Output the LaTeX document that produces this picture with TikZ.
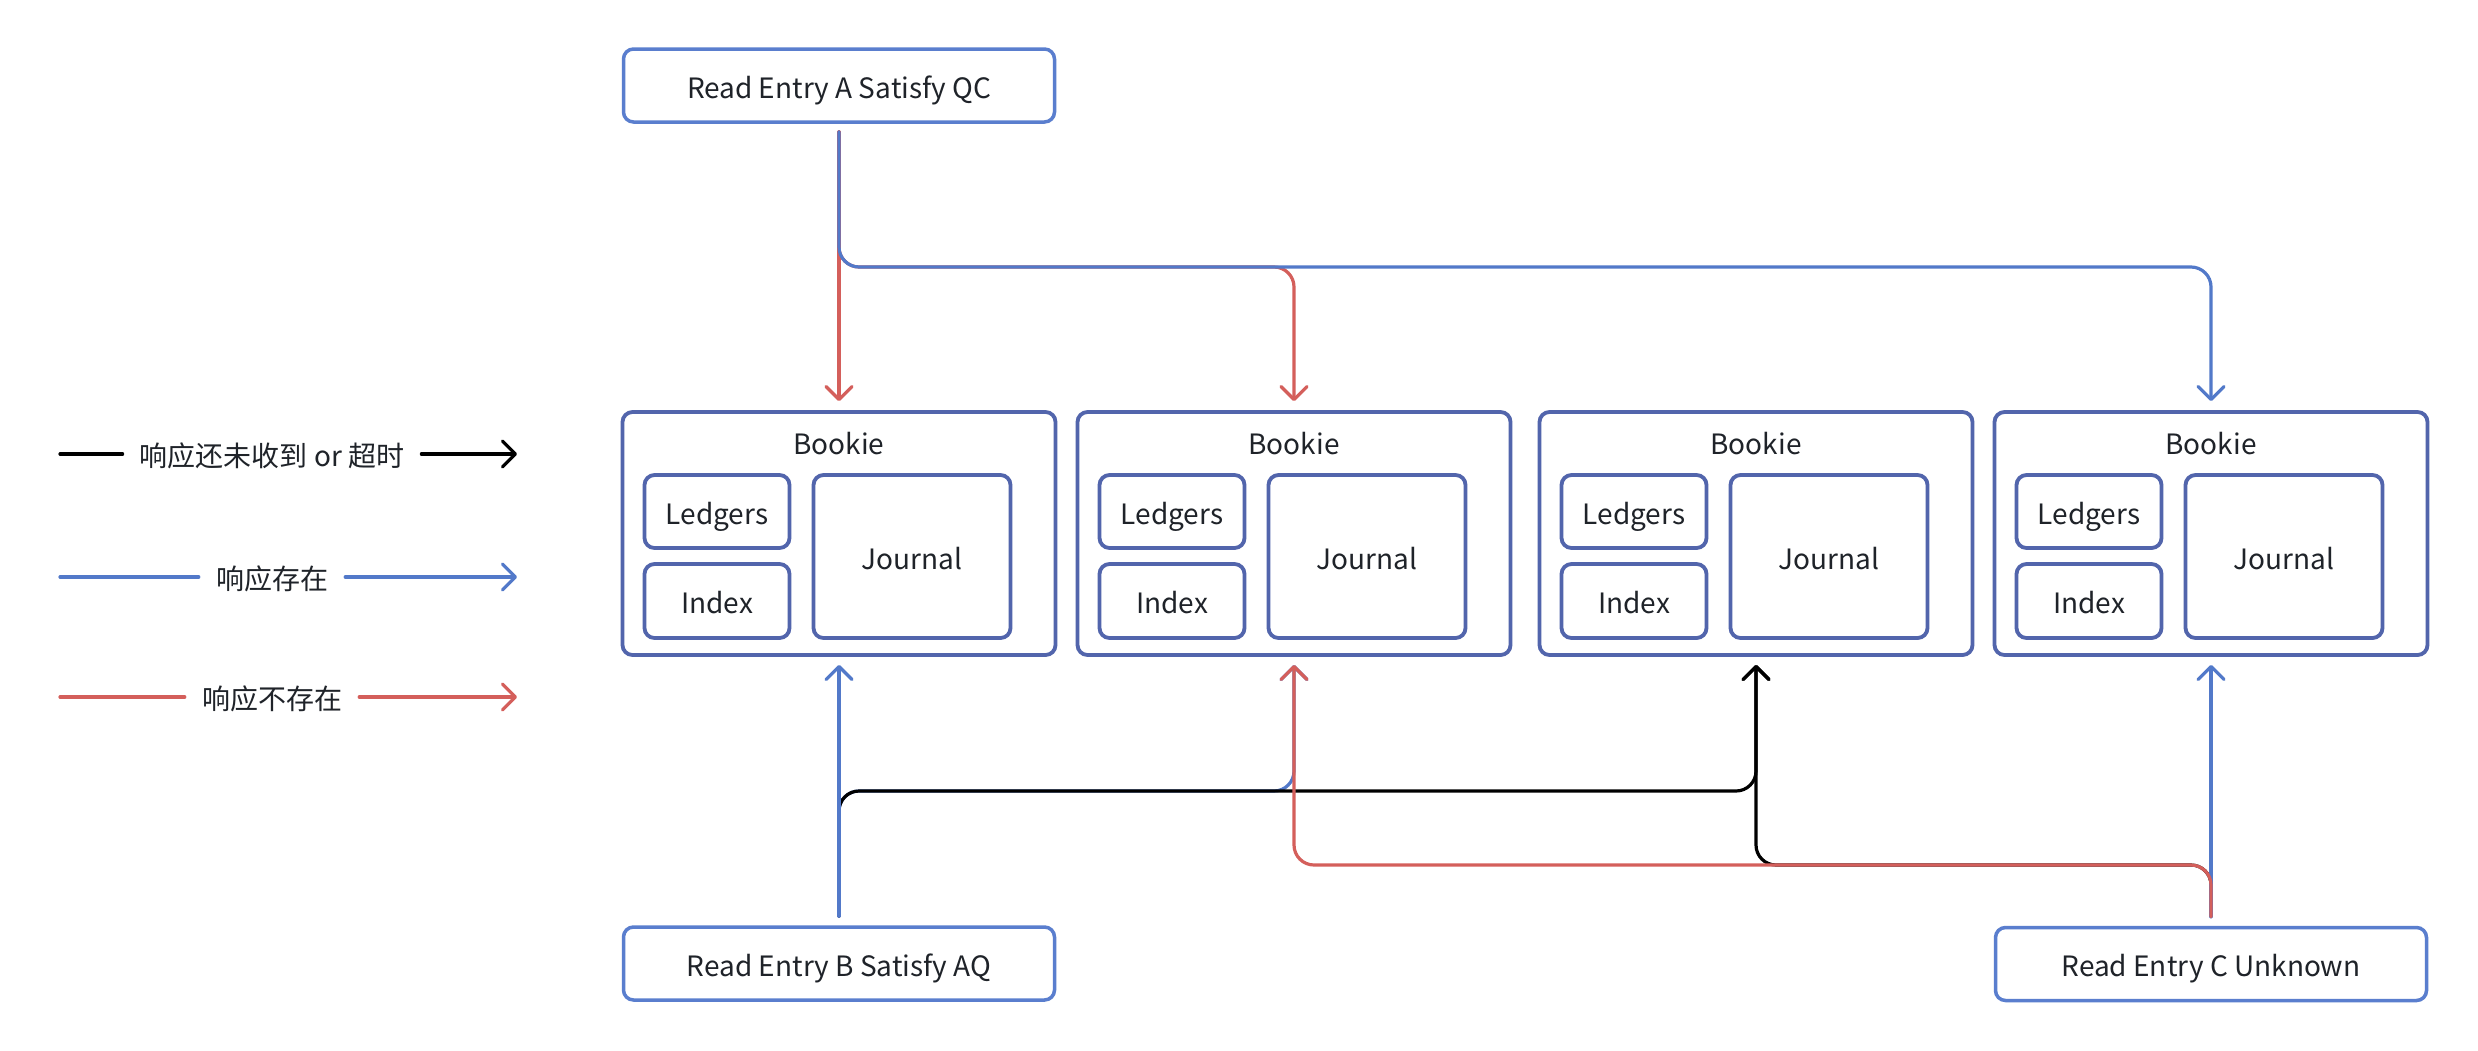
\documentclass[tikz,border=0pt]{standalone}
\usepackage{fontspec}
\setmainfont{Noto Sans CJK SC}
\usetikzlibrary{arrows.meta,calc}
\definecolor{bkborder}{HTML}{5265AC}
\definecolor{rdborder}{HTML}{5A7ECE}
\definecolor{cblue}{HTML}{5279C9}
\definecolor{cred}{HTML}{D45F5B}
\definecolor{ctext}{HTML}{1F2329}
\begin{document}
\begin{tikzpicture}[x=1pt,y=-1pt,
  every node/.style={font=\fontsize{28}{34}\selectfont, text=ctext},
  readbox/.style={draw=rdborder, line width=3.5pt, rounded corners=10pt, minimum width=431pt, minimum height=73pt, inner sep=0pt, text height=25pt, text depth=0pt},
  bookiebox/.style={draw=bkborder, line width=3.8pt, rounded corners=10pt, minimum width=433pt, minimum height=243pt, inner sep=0pt},
  partbox/.style={draw=bkborder, line width=3.8pt, rounded corners=10pt, inner sep=0pt, anchor=north west, text height=25pt, text depth=0pt},
  plainline/.style={line width=3.2pt, line cap=round},
  conn/.style={line width=3.2pt, rounded corners=20pt, line cap=round, -{Straight Barb[length=13pt,width=26pt,round]}},
  legtext/.style={inner xsep=17pt, inner ysep=0pt}
]
\useasboundingbox[fill=white] (0,0) rectangle (2478,1050);

% read entry boxes
\node[readbox] (rA) at (839,85.5) {Read Entry A Satisfy QC};
\node[readbox] (rB) at (839,963.5) {Read Entry B Satisfy AQ};
\node[readbox] (rC) at (2211,964) {Read Entry C Unknown};

% bookies
\foreach \i/\cx in {1/839,2/1294,3/1756,4/2211}{
  \node[bookiebox] (bk\i) at (\cx,533.5) {};
  \node[anchor=base] (bt\i) at (\cx,454) {Bookie};
  \node[partbox, minimum width=145pt, minimum height=73pt] (led\i) at ($(bk\i.north west)+(22,63)$) {Ledgers};
  \node[partbox, minimum width=145pt, minimum height=74pt] (idx\i) at ($(bk\i.north west)+(22,152)$) {Index};
  \node[partbox, minimum width=197pt, minimum height=163pt] (jr\i) at ($(bk\i.north west)+(191,63)$) {Journal};
}

% legend
\coordinate (l1s) at (60,454);  \coordinate (l1e) at (517,454);
\coordinate (l2s) at (60,577);  \coordinate (l2e) at (517,577);
\coordinate (l3s) at (60,697);  \coordinate (l3e) at (517,697);
\node[legtext] (l1t) at (272,456) {响应还未收到 or 超时};
\node[legtext] (l2t) at (272,579) {响应存在};
\node[legtext] (l3t) at (272,699) {响应不存在};
\draw[plainline, black] (l1s) -- (l1t.west |- l1s);
\draw[conn, black] (l1t.east |- l1e) -- (l1e);
\draw[plainline, cblue] (l2s) -- (l2t.west |- l2s);
\draw[conn, cblue] (l2t.east |- l2e) -- (l2e);
\draw[plainline, cred] (l3s) -- (l3t.west |- l3s);
\draw[conn, cred] (l3t.east |- l3e) -- (l3e);

% buses
\coordinate (busA) at (0,267);
\coordinate (busB) at (0,791);
\coordinate (busC) at (0,865);

% from A
\draw[conn, cred] ([yshift=-8pt]rA.south) -- (rA.south |- busA) -- (bk2.north |- busA) -- ([yshift=9pt]bk2.north);
\draw[conn, cred] ([yshift=-8pt]rA.south) -- ([yshift=9pt]bk1.north);
\draw[conn, cblue] ([yshift=-8pt]rA.south) -- (rA.south |- busA) -- (bk4.north |- busA) -- ([yshift=9pt]bk4.north);

% from B
\draw[conn, cblue] ([yshift=9pt]rB.north) -- (rB.north |- busB) -- (bk2.south |- busB) -- ([yshift=-8pt]bk2.south);
\draw[conn, black] ([yshift=9pt]rB.north) -- (rB.north |- busB) -- (bk3.south |- busB) -- ([yshift=-8pt]bk3.south);
\draw[conn, cblue] ([yshift=9pt]rB.north) -- ([yshift=-8pt]bk1.south);

% from C
\draw[conn, black] ([yshift=9pt]rC.north) -- (rC.north |- busC) -- (bk3.south |- busC) -- ([yshift=-8pt]bk3.south);
\draw[conn, cblue] ([yshift=9pt]rC.north) -- ([yshift=-8pt]bk4.south);
\draw[conn, cred] ([yshift=9pt]rC.north) -- (rC.north |- busC) -- (bk2.south |- busC) -- ([yshift=-8pt]bk2.south);
\end{tikzpicture}
\end{document}
